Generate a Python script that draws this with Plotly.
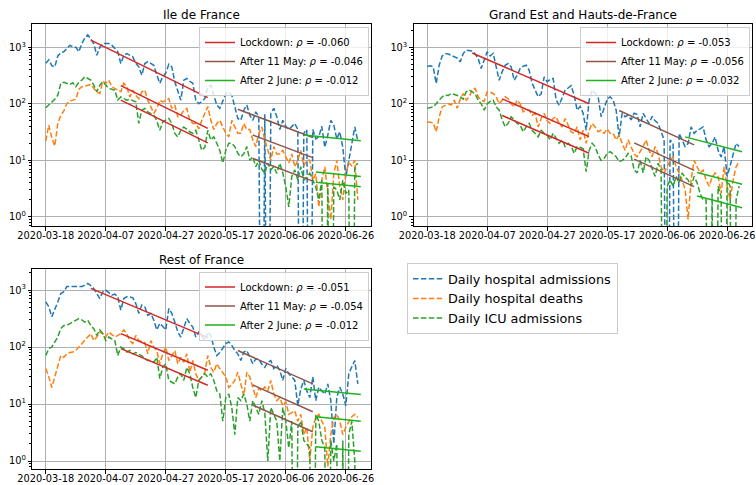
import numpy as np
import pandas as pd
import plotly.graph_objects as go

# ---------------- data ----------------
START = "2020-03-18"
N_DAYS = 105
DATES = pd.date_range(START, periods=N_DAYS, freq="D")

REGIONS = ["Ile de France", "Grand Est and Hauts-de-France", "Rest of France"]
SERIES_NAMES = ["Daily hospital admissions", "Daily hospital deaths", "Daily ICU admissions"]
SERIES_COLORS = ["#1f77b4", "#ff7f0e", "#2ca02c"]

IDF_ADM = [520, 600, 470, 450, 700, 800, 830, 950, 1080, 1020,
           1000, 830, 1150, 1450, 1650, 1400, 1150, 720, 1000, 1160,
           1160, 1160, 1085, 950, 830, 515, 720, 770, 720, 675,
           520, 450, 320, 515, 555, 520, 480, 320, 230, 300,
           350, 500, 450, 245, 163, 116, 262, 280, 250, 230,
           116, 100, 110, 123, 200, 214, 142, 95, 83, 110,
           150, 160, 142, 89, 55, 51, 77, 95, 63, 51,
           72, 60, 0, 65, 0, 68, 83, 59, 35, 51,
           40, 35, 39, 45, 35, 0, 30, 35, 0, 35,
           24, 26, 40, 17, 28, 51, 42, 24, 32, 17,
           5, 10, 17, 39, 22]
IDF_DEATHS = [22, 42, 25, 18, 45, 62, 75, 100, 112, 116,
              120, 180, 200, 205, 214, 220, 187, 160, 152, 250,
              230, 262, 200, 185, 174, 163, 230, 200, 132, 174,
              140, 123, 163, 174, 116, 89, 68, 83, 116, 108,
              115, 123, 83, 95, 59, 63, 77, 83, 51, 45,
              45, 36, 51, 68, 89, 51, 35, 45, 51, 39,
              30, 26, 51, 39, 30, 30, 45, 35, 35, 23,
              17.5, 30, 39, 23, 15, 10, 17.5, 13, 13, 15,
              11.6, 9, 13, 7.7, 10, 15, 8, 10, 10, 4.5,
              5.8, 1.5, 4.5, 7.7, 2.6, 0.9, 5.8, 10, 3.4, 2,
              6, 9, 8, 10, 2]
IDF_ICU = [85, 95, 105, 120, 142, 230, 240, 230, 220, 235,
           200, 240, 262, 300, 280, 262, 214, 163, 214, 245,
           214, 187, 180, 174, 116, 132, 123, 116, 120, 115,
           108, 45, 77, 83, 72, 67, 63, 50, 34, 48,
           51, 55, 45, 30, 26, 34, 39, 35, 32, 30,
           34, 23, 15, 17, 34, 23, 26, 20, 15, 9,
           15, 20, 20, 17.5, 13.3, 11.6, 13, 17.5, 10, 11.6,
           7.7, 10, 7, 5.9, 8.9, 6.8, 7.7, 5.9, 8.9, 6,
           3.4, 1.5, 5.2, 6.8, 4.5, 7.7, 4.5, 5, 5.9, 4.5,
           3.4, 2, 4.5, 0, 3.9, 0, 3.4, 3, 2, 4.5,
           2.6, 3, 0, 7.7, 8.9]

GE_ADM = [460, 470, 450, 228, 480, 700, 770, 760, 720, 675,
          640, 550, 770, 885, 880, 860, 760, 630, 420, 590,
          830, 700, 780, 450, 260, 370, 480, 515, 450, 260,
          320, 420, 460, 480, 390, 230, 175, 133, 150, 300,
          245, 270, 280, 116, 95, 133, 175, 190, 210, 142,
          77, 90, 68, 34, 116, 175, 150, 133, 59, 83,
          120, 133, 116, 77, 26, 68, 59, 63, 52, 68,
          65, 39, 68, 55, 45, 60, 50, 45, 32, 23,
          0, 23, 20, 0, 30, 23, 17.5, 20, 39, 30,
          34, 36, 39, 23, 17.5, 20, 26, 15, 11.5, 17.5,
          5.2, 8, 13, 20, 17.5]
GE_DEATHS = [48, 47, 46, 32, 59, 88, 95, 100, 95, 116,
             83, 120, 152, 116, 133, 175, 187, 133, 116, 110,
             163, 160, 152, 133, 100, 116, 133, 123, 100, 88,
             116, 100, 72, 77, 77, 63, 68, 39, 55, 68,
             50, 45, 55, 59, 45, 39, 55, 42, 32, 30,
             39, 23, 34, 20, 34, 45, 39, 32, 34, 30,
             36, 30, 30, 23, 28, 20, 15, 23, 17.5, 13,
             11.6, 14, 17.5, 23, 15, 11.6, 17.5, 13, 7.7, 6,
             7.7, 10, 11.6, 7.7, 6, 4.5, 3, 0.9, 4.5, 10,
             7.7, 6, 6.7, 4.5, 3.5, 5, 6, 5.2, 2.6, 7.7,
             3.5, 2, 4.5, 7.7, 9.5]
GE_ICU = [83, 85, 88, 100, 116, 133, 142, 140, 152, 145,
          140, 135, 120, 163, 175, 160, 150, 116, 100, 77,
          100, 110, 116, 88, 77, 52, 39, 45, 59, 52,
          45, 42, 32, 39, 45, 34, 30, 26, 34, 30,
          28, 23, 30, 24.5, 20, 23, 17.5, 20, 18, 13.3,
          17.5, 17, 16, 6.3, 15, 20, 17.5, 12.4, 10, 10.8,
          13.3, 14.3, 13, 11.6, 9.5, 10, 11, 13.3, 12, 6.8,
          6, 10, 6, 11.6, 10, 7, 5.2, 8.9, 6.8, 0,
          3.5, 4.5, 3.5, 5.2, 4, 6, 5, 4.5, 3.5, 5.2,
          4, 2.6, 2, 2, 0, 2.6, 0, 3.5, 2.3, 0,
          4.5, 3.5, 0, 2, 3.5]

ROF_ADM = [620, 510, 340, 450, 620, 870, 935, 1150, 1150, 1150,
           1150, 1150, 1150, 1220, 1310, 1200, 1070, 870, 710, 935,
           1000, 900, 815, 850, 760, 445, 710, 760, 760, 730,
           580, 390, 545, 510, 360, 390, 295, 200, 260, 230,
           200, 475, 390, 275, 184, 150, 225, 315, 260, 225,
           150, 184, 160, 130, 184, 160, 100, 71, 80, 94,
           115, 123, 107, 87, 76, 58, 82, 87, 66, 51,
           62, 62, 50, 44, 54, 58, 42, 48, 39, 26,
           42, 34, 30, 26, 9.3, 18.4, 26, 17, 13, 30,
           11.5, 19.7, 17, 15, 22.6, 11.5, 2, 13, 19.7, 15,
           9.3, 34, 45, 58, 22.6]
ROF_DEATHS = [42, 30, 19.5, 30, 42, 71, 66, 76, 80, 82,
              87, 100, 115, 130, 150, 172, 130, 150, 184, 172,
              150, 184, 165, 150, 160, 172, 200, 172, 130, 115,
              160, 130, 125, 120, 76, 130, 100, 87, 51, 76,
              100, 58, 70, 87, 51, 66, 54, 76, 36, 58,
              34, 26, 30, 36, 71, 44, 36, 51, 42, 36,
              30, 19.5, 22, 26, 36, 22.6, 14, 36, 30, 19.5,
              13, 19, 17, 20, 17, 26, 15, 11.5, 13, 9.3,
              11, 6.6, 7, 7.6, 5, 6.6, 2.9, 3.9, 1.0, 3.9,
              5.8, 6.6, 5, 3.9, 0.8, 2.9, 5.8, 6.6, 5, 2.9,
              3.9, 5, 6, 6.6, 5.8]
ROF_ICU = [71, 94, 100, 120, 150, 210, 240, 240, 260, 275,
           295, 315, 300, 275, 295, 240, 210, 160, 200, 172,
           130, 150, 140, 130, 71, 100, 94, 82, 87, 76,
           80, 76, 70, 62, 58, 58, 54, 66, 28, 44,
           51, 26, 24, 22.6, 30, 34, 26, 44, 34, 19.5,
           13, 26, 30, 34, 30, 34, 26, 17, 15, 5,
           13, 15, 8.7, 2.9, 13, 11.5, 15, 10, 5, 11.5,
           8.7, 6.6, 11.5, 7, 1, 8.7, 6.6, 5, 1, 8.7,
           5, 1.7, 5, 0, 3.9, 5, 2.3, 2, 1.7, 0,
           6.6, 5, 2.3, 1.7, 0, 2.3, 1, 2, 0, 2.3,
           0, 2.9, 5, 1, 0]

PERIOD_NAMES = ["Lockdown", "After 11 May", "After 2 June"]
PERIOD_COLORS = ["#d62728", "#8c564b", "#1db31d"]
FIT_START_ADM = ["2020-04-02", "2020-05-21", "2020-06-12"]
FIT_START_OTHER = ["2020-04-12", "2020-05-26", "2020-06-16"]
FIT_END = ["2020-05-11", "2020-06-15", "2020-07-01"]
IDF_RHO = [-0.060, -0.046, -0.012]
GE_RHO = [-0.053, -0.056, -0.032]
ROF_RHO = [-0.051, -0.054, -0.012]
# fitted value at the window start; rows = periods, cols = (admissions, deaths, ICU)
IDF_FIT_START = [[1330, 210, 116], [80, 28, 10.8], [28, 6.2, 4.1]]
GE_FIT_START = [[790, 122, 62], [76, 20.4, 10.5], [26, 6.1, 2.35]]
ROF_FIT_START = [[1070, 172, 94], [87, 21.6, 9.6], [18.4, 6.0, 1.78]]

PANELS = [
    (REGIONS[0], [IDF_ADM, IDF_DEATHS, IDF_ICU], IDF_RHO, IDF_FIT_START),
    (REGIONS[1], [GE_ADM, GE_DEATHS, GE_ICU], GE_RHO, GE_FIT_START),
    (REGIONS[2], [ROF_ADM, ROF_DEATHS, ROF_ICU], ROF_RHO, ROF_FIT_START),
]

# ---------------- figure ----------------
W, H = 756, 485
FONT = "DejaVu Sans"
fig = go.Figure()

axes_px = [  # (left, right, top, bottom) in pixels
    (32.3, 370.7, 24, 226),
    (413.7, 752.0, 24, 226),
    (32.3, 370.7, 269, 469),
]
yranges = [[-0.16, 3.41], [-0.16, 3.41], [-0.14, 3.37]]
legend_pos = [(369 / W, 1 - 27 / H), (750 / W, 1 - 27 / H), (369 / W, 1 - 271.5 / H)]

base = pd.Timestamp(START)
xrange_ = [(base - pd.Timedelta(days=4.5)).strftime("%Y-%m-%d %H:%M"),
           (base + pd.Timedelta(days=108.3)).strftime("%Y-%m-%d %H:%M")]
xtick_vals = pd.date_range(START, periods=6, freq="20D")
minor_vals = [m * 10 ** k for k in range(-1, 4) for m in range(2, 10)]

for p, (title, series, rhos, fit_start) in enumerate(PANELS):
    xa = "x" if p == 0 else f"x{p + 1}"
    ya = "y" if p == 0 else f"y{p + 1}"
    leg = f"legend{p + 2}"
    for s, vals in enumerate(series):
        yplot = [v if v > 0 else 1e-6 for v in vals]
        fig.add_trace(go.Scatter(
            x=DATES, y=yplot, mode="lines", name=SERIES_NAMES[s],
            line=dict(color=SERIES_COLORS[s], width=1.5, dash="5.5px,2.4px"),
            xaxis=xa, yaxis=ya, legend="legend", showlegend=(p == 0),
            hoverinfo="skip"))
    for k in range(3):
        xs, ys = [], []
        for s in range(3):
            t0 = pd.Timestamp(FIT_START_ADM[k] if s == 0 else FIT_START_OTHER[k])
            t1 = pd.Timestamp(FIT_END[k])
            v0 = fit_start[k][s]
            days = (t1 - t0).days
            xs += [t0, t1, None]
            ys += [v0, v0 * np.exp(rhos[k] * days), None]
        fig.add_trace(go.Scatter(
            x=xs, y=ys, mode="lines",
            name=f"{PERIOD_NAMES[k]}: <i>ρ</i> = {rhos[k]:.3f}",
            line=dict(color=PERIOD_COLORS[k], width=1.5),
            xaxis=xa, yaxis=ya, legend=leg, showlegend=True, hoverinfo="skip"))

    l, r, t, b = axes_px[p]
    axis_common = dict(showline=True, mirror=True, linecolor="black", linewidth=1,
                       ticks="outside", ticklen=3.5, tickwidth=0.8, tickcolor="black",
                       showgrid=True, gridcolor="#b0b0b0", gridwidth=0.8,
                       zeroline=False, automargin=False,
                       tickfont=dict(family=FONT, size=9.8, color="black"))
    xkey = "xaxis" if p == 0 else f"xaxis{p + 1}"
    ykey = "yaxis" if p == 0 else f"yaxis{p + 1}"
    fig.layout[xkey] = dict(domain=[l / W, r / W], anchor=ya, type="date",
                            range=xrange_, tickvals=list(xtick_vals),
                            ticktext=[d.strftime("%Y-%m-%d") for d in xtick_vals],
                            tickangle=0, ticklabelstandoff=-3, **axis_common)
    fig.layout[ykey] = dict(domain=[1 - b / H, 1 - t / H], anchor=xa, type="log",
                            range=yranges[p], tickvals=[1, 10, 100, 1000],
                            ticktext=["10<sup>0</sup>", "10<sup>1</sup>", "10<sup>2</sup>", "10<sup>3</sup>"],
                            minor=dict(tickvals=minor_vals, ticks="outside", ticklen=2,
                                       tickwidth=0.6, tickcolor="black", showgrid=False),
                            **axis_common)
    # title
    fig.add_annotation(text=title, x=(l + r) / 2 / W, y=1 - (t - 9) / H,
                       xref="paper", yref="paper", xanchor="center", yanchor="middle",
                       showarrow=False, font=dict(family=FONT, size=12, color="black"))
    lx, ly = legend_pos[p]
    fig.layout[leg] = dict(x=lx, y=ly, xanchor="right", yanchor="top",
                           bgcolor="rgba(255,255,255,0.8)", bordercolor="#cccccc",
                           borderwidth=1, font=dict(family=FONT, size=10, color="black"),
                           itemwidth=30, tracegroupgap=0)

fig.update_layout(
    width=W, height=H, margin=dict(l=0, r=0, t=0, b=0, autoexpand=False),
    paper_bgcolor="white", plot_bgcolor="white",
    font=dict(family=FONT, size=10, color="black"),
    legend=dict(x=407 / W, y=1 - 263 / H, xanchor="left", yanchor="top",
                bgcolor="white", bordercolor="#cccccc", borderwidth=1,
                font=dict(family=FONT, size=12.8, color="black"), itemwidth=30),
)

fig.write_html("out.html", config={"displayModeBar": False},
               post_script="document.body.style.margin='0';document.body.style.overflow='hidden';")
